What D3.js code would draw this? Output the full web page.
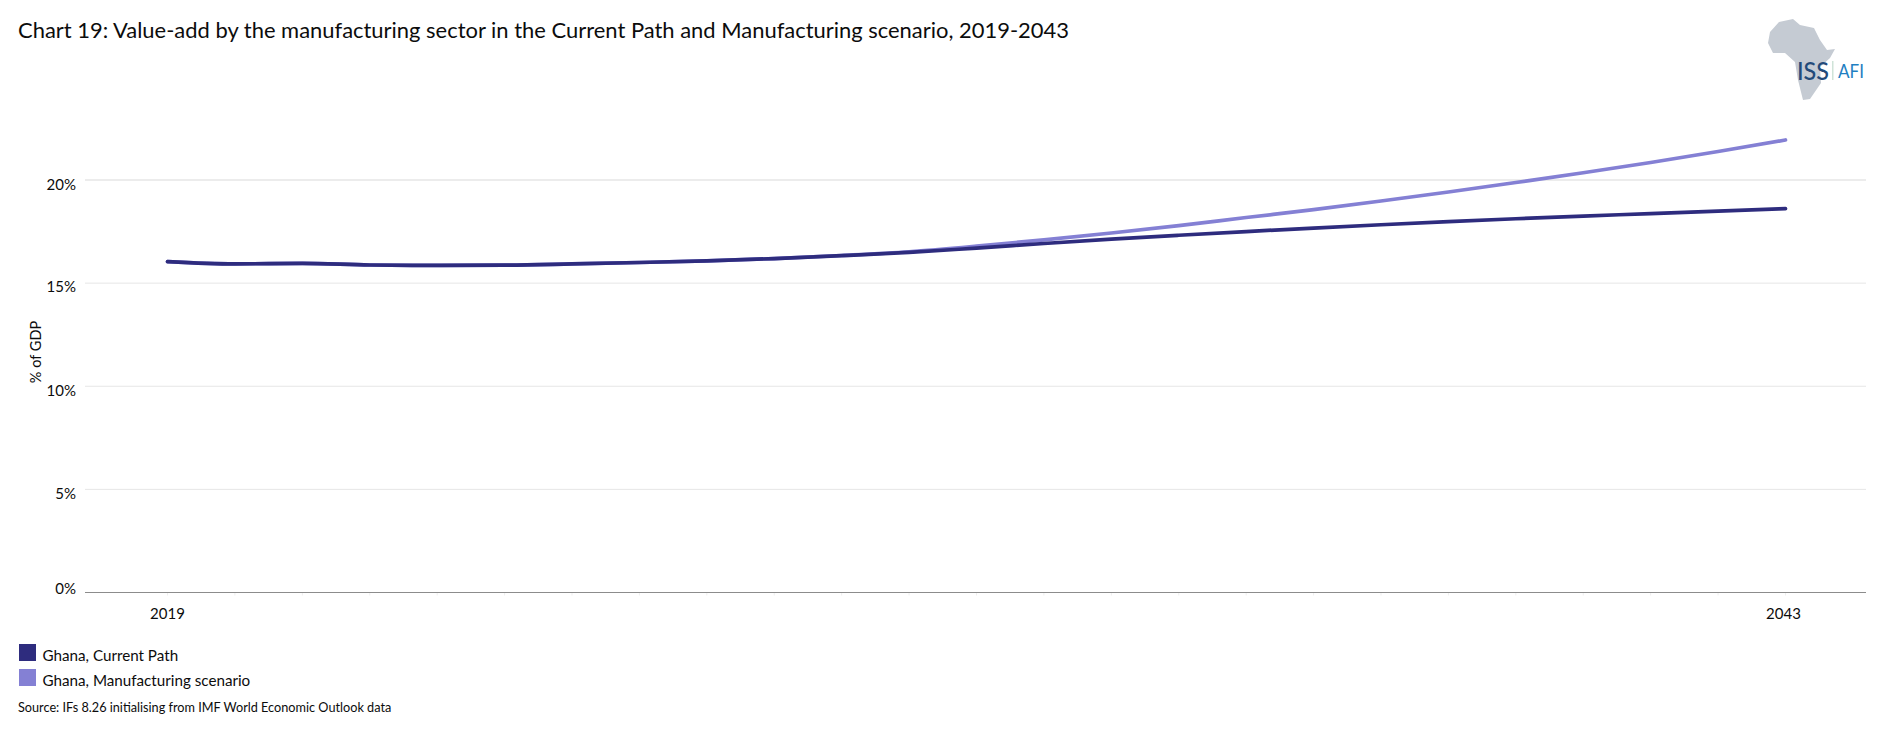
<!DOCTYPE html>
<html><head><meta charset="utf-8">
<script src="https://cdn.jsdelivr.net/npm/d3@7/dist/d3.min.js"></script>
<style>
html,body{margin:0;padding:0;background:#fff;overflow:hidden}
svg{display:block}
text{font-family:Lato,"Open Sans",sans-serif;fill:#0c0c0c}
</style></head><body><svg id="c" width="1880" height="739"></svg>
<script>
const titleText="Chart 19: Value-add by the manufacturing sector in the Current Path and Manufacturing scenario, 2019-2043";
const sourceText="Source: IFs 8.26 initialising from IMF World Economic Outlook data";
const yAxisLabel="% of GDP";
const years=[2019,2020,2021,2022,2023,2024,2025,2026,2027,2028,2029,2030,2031,2032,2033,2034,2035,2036,2037,2038,2039,2040,2041,2042,2043];
const currentPath=[16.04,15.93,15.96,15.88,15.86,15.87,15.93,16.00,16.08,16.19,16.33,16.49,16.70,16.92,17.13,17.32,17.50,17.67,17.83,17.98,18.12,18.25,18.37,18.49,18.61];
const manufacturing=[16.04,15.93,15.96,15.88,15.86,15.87,15.93,16.00,16.08,16.19,16.34,16.52,16.79,17.10,17.43,17.79,18.18,18.56,18.98,19.42,19.88,20.35,20.85,21.38,21.94];
const yTicks=[0,5,10,15,20];
const xLabels=[2019,2043];
const legendNames=["Ghana, Current Path","Ghana, Manufacturing scenario"];
const colors=["#2e2c7e","#8480d4"];

const svg=d3.select("#c");
const x=d3.scaleLinear().domain([2019,2043]).range([167.5,1785.5]);
const y=d3.scaleLinear().domain([0,20]).range([592.5,180]);

// gridlines + y labels
const yAxis=d3.axisLeft(y).tickValues(yTicks).tickSize(0).tickPadding(0).tickFormat(d=>d+"%");
const gy=svg.append("g").attr("transform","translate(76,0)").call(yAxis);
gy.select(".domain").remove();
gy.selectAll("text").attr("dy",null).attr("y",d=>d===0?0.5:d===15?8:d===20?9:9)
  .style("font-size","15px").style("font-family","Lato");
svg.append("g").selectAll("line").data(yTicks.filter(d=>d>0)).join("line")
  .attr("x1",85).attr("x2",1866).attr("y1",d=>y(d)).attr("y2",d=>y(d))
  .attr("stroke","#e6e6e6").attr("stroke-width",d=>d===20?1.6:1);

// x axis
const gx=svg.append("g").attr("transform",`translate(0,${y(0)})`);
gx.selectAll("line.t").data(years).join("line").attr("class","t")
  .attr("x1",d=>x(d)).attr("x2",d=>x(d)).attr("y1",0).attr("y2",3).attr("stroke","#efefef");
gx.append("line").attr("x1",85).attr("x2",1866).attr("stroke","#8c8c8c").attr("stroke-width",1.2);
gx.selectAll("text").data(xLabels).join("text").attr("x",d=>x(d)+(d===2019?0:-2)).attr("y",26.5)
  .attr("text-anchor","middle").style("font-size","15px").text(d=>d);

// lines
const line=d3.line().x((d,i)=>x(years[i])).y(d=>y(d)).curve(d3.curveMonotoneX);
[manufacturing,currentPath].forEach((s,i)=>{
  svg.append("path").datum(s).attr("d",line).attr("fill","none")
    .attr("stroke",colors[1-i]).attr("stroke-width",3.7).attr("stroke-linecap","round");
});

// title
svg.append("text").attr("x",18).attr("y",38).style("font-size","20.5px").attr("textLength",1051).attr("lengthAdjust","spacingAndGlyphs").text(titleText);
// y title
svg.append("text").attr("transform","translate(41,352) rotate(-90)").attr("text-anchor","middle").style("font-size","14.5px").text(yAxisLabel);
// legend
const lg=svg.append("g").selectAll("g").data(legendNames).join("g").attr("transform",(d,i)=>`translate(19,${644+i*25})`);
lg.append("rect").attr("width",17).attr("height",17).attr("fill",(d,i)=>colors[i]);
lg.append("text").attr("x",23.5).attr("y",17).style("font-size","15.2px").text(d=>d);
// source
svg.append("text").attr("x",18).attr("y",711.5).style("font-size","12.7px").text(sourceText);

// logo
const logo=svg.append("g");
logo.append("path").attr("fill","#c5cbd3").attr("d","M1779 22 L1793 19 L1800 25 L1814 28 L1820 40 L1827 50 L1835 49 L1830 58 L1820 67 L1821 83 L1810 99 L1803 100 L1798 80 L1795 62 L1785 53 L1773 53 L1768 43 L1770 32 Z");
logo.append("text").attr("x",1797).attr("y",79.5).style("font-size","25px").style("font-weight","500").style("fill","#234a7a").attr("textLength",32).attr("lengthAdjust","spacingAndGlyphs").text("ISS");
logo.append("rect").attr("x",1832).attr("y",61).attr("width",1.5).attr("height",19).attr("fill","#cfe3d8");
logo.append("text").attr("x",1838).attr("y",78).style("font-size","19px").style("font-weight","400").style("fill","#1f7fc2").attr("textLength",26).attr("lengthAdjust","spacingAndGlyphs").text("AFI");
</script></body></html>
